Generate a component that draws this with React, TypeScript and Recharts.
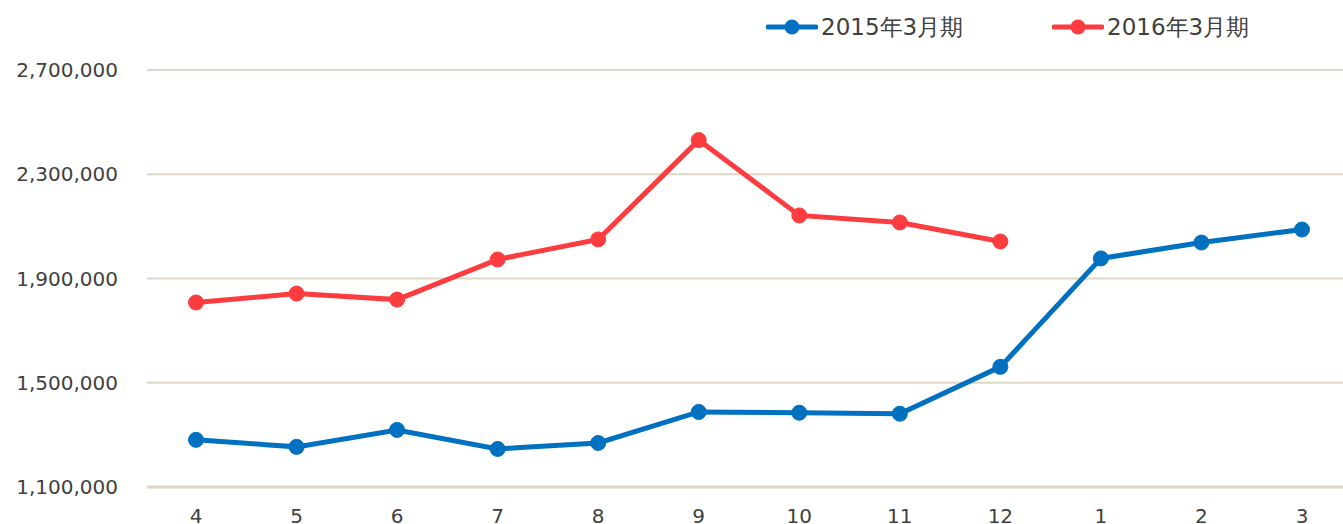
import { LineChart, Line, XAxis, YAxis, CartesianGrid } from "recharts";

const months = ["4", "5", "6", "7", "8", "9", "10", "11", "12", "1", "2", "3"];
const fy2015 = [1281000, 1254000, 1319000, 1246000, 1269000, 1388000, 1385000, 1381000, 1561000, 1977000, 2038000, 2088000];
const fy2016 = [1808000, 1842000, 1819000, 1973000, 2050000, 2431000, 2142000, 2115000, 2042000, null, null, null];
const yTicks = [1100000, 1500000, 1900000, 2300000, 2700000];

const BLUE = "#0070c0";
const RED = "#fd3c40";
const GRID = "#ddd8c4";
const TEXT = "#404040";
const FONT = "'DejaVu Sans', Verdana, sans-serif";

const data = months.map((m, i) => ({ month: m, a: fy2015[i], b: fy2016[i] }));

function LegendItem({ color, label, left }: { color: string; label: string; left: number }) {
  return (
    <div style={{ position: "absolute", left, top: 6, display: "flex", alignItems: "center" }}>
      <svg width={52} height={26}>
        <line x1={2} y1={13} x2={50} y2={13} stroke={color} strokeWidth={5} strokeLinecap="round" />
        <circle cx={26} cy={13} r={7.5} fill={color} />
      </svg>
      <span style={{ marginLeft: 3, fontSize: 23, color: TEXT, fontFamily: FONT, lineHeight: "26px" }}>{label}</span>
    </div>
  );
}

export default function App() {
  return (
    <div style={{ position: "fixed", left: 8, top: 8, width: 1335, height: 516, overflow: "hidden", background: "#fff" }}>
      <LineChart width={1345} height={516} data={data} margin={{ top: 62, right: 0, bottom: 0, left: 0 }}>
        <CartesianGrid vertical={false} stroke={GRID} strokeWidth={2} />
        <XAxis
          dataKey="month"
          height={37}
          padding={{ left: 49, right: 51 }}
          tickLine={false}
          tickSize={0}
          tickMargin={22}
          axisLine={{ stroke: GRID, strokeWidth: 3 }}
          tick={{ fill: TEXT, fontSize: 20, fontFamily: FONT }}
        />
        <YAxis
          width={139}
          domain={[1100000, 2700000]}
          ticks={yTicks}
          axisLine={false}
          tickLine={false}
          tickSize={0}
          tickMargin={29}
          tickFormatter={(v: number) => v.toLocaleString("en-US")}
          tick={{ fill: TEXT, fontSize: 20, fontFamily: FONT }}
        />
        <Line
          dataKey="a"
          stroke={BLUE}
          strokeWidth={5}
          dot={{ r: 7.5, fill: BLUE, stroke: BLUE, strokeWidth: 1 }}
          activeDot={false}
          isAnimationActive={false}
        />
        <Line
          dataKey="b"
          stroke={RED}
          strokeWidth={5}
          dot={{ r: 7.5, fill: RED, stroke: RED, strokeWidth: 1 }}
          activeDot={false}
          isAnimationActive={false}
        />
      </LineChart>
      <LegendItem color={BLUE} label="2015年3月期" left={758} />
      <LegendItem color={RED} label="2016年3月期" left={1044} />
    </div>
  );
}
